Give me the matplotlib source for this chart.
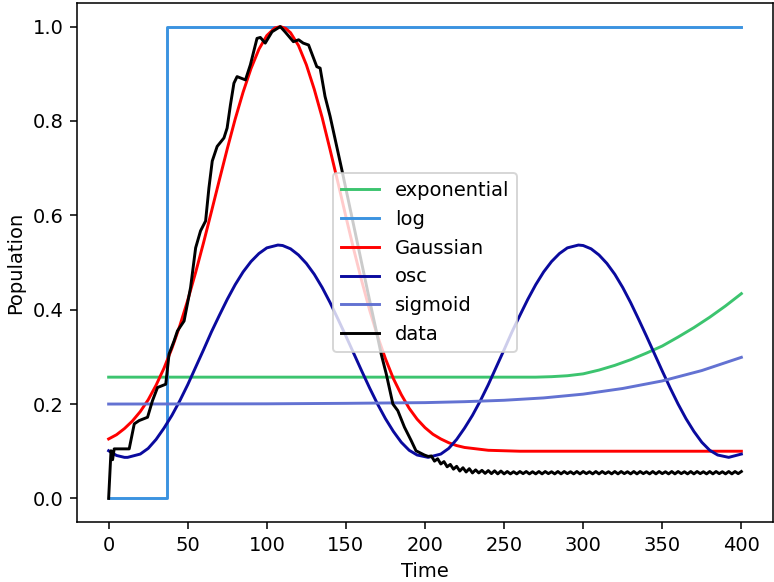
import matplotlib
matplotlib.use("Agg")
import matplotlib.pyplot as plt

# --- model curves ---
exp_x = [0, 270, 280, 290, 300, 310, 320, 330, 340, 350, 360, 370, 380, 390, 400]
exp_y = [0.257, 0.257, 0.258, 0.260, 0.264, 0.272, 0.282, 0.294, 0.308, 0.323,
         0.342, 0.362, 0.384, 0.408, 0.434]

log_x = [0, 37, 37, 400]
log_y = [0.0, 0.0, 1.0, 1.0]

gauss_x = [0, 5, 10, 15, 20, 25, 30, 35, 40, 45, 50, 55, 60, 65, 70, 75, 80, 85,
           90, 95, 100, 105, 108.5, 112, 115, 120, 125, 130, 135, 140, 145, 150,
           155, 160, 165, 170, 175, 180, 185, 190, 195, 200, 205, 210, 215, 220,
           225, 230, 235, 240, 250, 260, 400]
gauss_y = [0.126, 0.135, 0.148, 0.164, 0.184, 0.209, 0.240, 0.276, 0.318, 0.366,
           0.420, 0.479, 0.542, 0.608, 0.675, 0.741, 0.804, 0.861, 0.911, 0.952,
           0.981, 0.997, 1.000, 0.996, 0.987, 0.960, 0.919, 0.867, 0.807, 0.739,
           0.669, 0.597, 0.527, 0.461, 0.399, 0.344, 0.296, 0.254, 0.220, 0.191,
           0.168, 0.150, 0.136, 0.126, 0.118, 0.112, 0.108, 0.106, 0.104, 0.102,
           0.101, 0.100, 0.100]

osc_x = [0, 5, 10, 12, 20, 25, 30, 35, 40, 45, 50, 55, 60, 65, 70, 75, 80, 85, 90,
         95, 100, 107, 110, 115, 120, 125, 130, 135, 140, 145, 150, 155, 160, 165,
         170, 175, 180, 185, 190, 195, 202, 210, 215, 220, 225, 230, 235, 240, 245,
         250, 255, 260, 265, 270, 275, 280, 285, 290, 297, 300, 305, 310, 315, 320,
         325, 330, 335, 340, 345, 350, 355, 360, 365, 370, 375, 380, 385, 392, 400]
osc_y = [0.101, 0.091, 0.087, 0.087, 0.094, 0.106, 0.125, 0.149, 0.176, 0.207,
         0.241, 0.278, 0.315, 0.353, 0.388, 0.422, 0.453, 0.480, 0.502, 0.519,
         0.531, 0.537, 0.536, 0.529, 0.516, 0.498, 0.475, 0.447, 0.415, 0.380,
         0.344, 0.307, 0.270, 0.234, 0.200, 0.169, 0.142, 0.119, 0.102, 0.092,
         0.087, 0.094, 0.106, 0.125, 0.149, 0.176, 0.207, 0.241, 0.278, 0.315,
         0.353, 0.388, 0.422, 0.453, 0.480, 0.502, 0.519, 0.531, 0.537, 0.536,
         0.529, 0.516, 0.498, 0.475, 0.447, 0.415, 0.380, 0.344, 0.307, 0.270,
         0.234, 0.200, 0.169, 0.142, 0.119, 0.102, 0.092, 0.087, 0.094]

sig_x = [0, 100, 150, 200, 225, 250, 275, 300, 325, 350, 375, 400]
sig_y = [0.200, 0.2005, 0.2015, 0.203, 0.205, 0.208, 0.213, 0.221, 0.233, 0.249,
         0.271, 0.299]

# --- observed data: rise/fall part, then the jittery tail (every 2 time units) ---
data_x = [0, 1.5, 2.5, 3.5, 13, 16.2, 19.3, 24.6, 27.7, 30.9,
          36.1, 38.2, 41.4, 43.5, 47.7, 51.8, 55, 58.1, 61.3, 63.4,
          65.5, 68.6, 72.9, 74.9, 77, 79.2, 81.2, 86.5, 89.6, 93.8,
          95.9, 99, 103.3, 108.5, 111.5, 116.8, 120.1, 123, 126.4, 131.6,
          133.7, 136.8, 140, 142.1, 147.4, 152, 158, 164, 169.2, 172.3,
          175.5, 179.7, 182.8, 187, 191.2, 194.3, 199.6, 202]
data_y = [0.0, 0.101, 0.082, 0.105, 0.105, 0.158, 0.165, 0.172, 0.207, 0.235,
          0.242, 0.306, 0.334, 0.355, 0.376, 0.447, 0.531, 0.567, 0.588, 0.658,
          0.715, 0.746, 0.764, 0.785, 0.834, 0.880, 0.894, 0.887, 0.919, 0.975,
          0.977, 0.965, 0.989, 1.000, 0.989, 0.968, 0.972, 0.965, 0.961, 0.915,
          0.912, 0.852, 0.810, 0.778, 0.697, 0.625, 0.530, 0.435, 0.355, 0.306,
          0.264, 0.200, 0.186, 0.151, 0.123, 0.101, 0.092, 0.089]

tail_x = list(range(204, 401, 2))
tail_y = [0.090, 0.079, 0.084, 0.073, 0.078, 0.067, 0.072, 0.062, 0.068, 0.058,
          0.065, 0.056, 0.063, 0.054, 0.0605, 0.054, 0.0595, 0.053, 0.059, 0.0525,
          0.0585, 0.052, 0.058, 0.052,
          0.057, 0.052, 0.0565, 0.052, 0.057, 0.0525, 0.057, 0.052, 0.0565, 0.052,
          0.057, 0.052, 0.057, 0.0525, 0.0565, 0.052, 0.057, 0.052, 0.057, 0.0525,
          0.0565, 0.052, 0.057, 0.052, 0.057, 0.0525, 0.0565, 0.052, 0.057, 0.052,
          0.057, 0.0525, 0.0565, 0.052, 0.057, 0.052, 0.057, 0.0525, 0.0565, 0.052,
          0.057, 0.052, 0.057, 0.0525, 0.0565, 0.052, 0.057, 0.052, 0.057, 0.0525,
          0.0565, 0.052, 0.057, 0.052, 0.057, 0.0525, 0.0565, 0.052, 0.057, 0.052,
          0.057, 0.0525, 0.0565, 0.052, 0.057, 0.052, 0.057, 0.0525, 0.0565, 0.052,
          0.057, 0.052, 0.057, 0.0525, 0.057]

fig = plt.figure(figsize=(774 / 140, 582 / 140), dpi=140)
ax = fig.add_axes([77 / 774, 60 / 582, 696 / 774, 519 / 582])

ax.plot(exp_x, exp_y, color="#3cc46f", label="exponential")
ax.plot(log_x, log_y, color="#3b93e0", label="log")
ax.plot(gauss_x, gauss_y, color="red", label="Gaussian")
ax.plot(osc_x, osc_y, color="#0a0a9e", label="osc")
ax.plot(sig_x, sig_y, color="#6372d2", label="sigmoid")
ax.plot(data_x + tail_x, data_y + tail_y, color="black", label="data")

ax.set_xlabel("Time")
ax.set_ylabel("Population")
ax.legend(loc="center")

fig.savefig("out.png", dpi=140)
